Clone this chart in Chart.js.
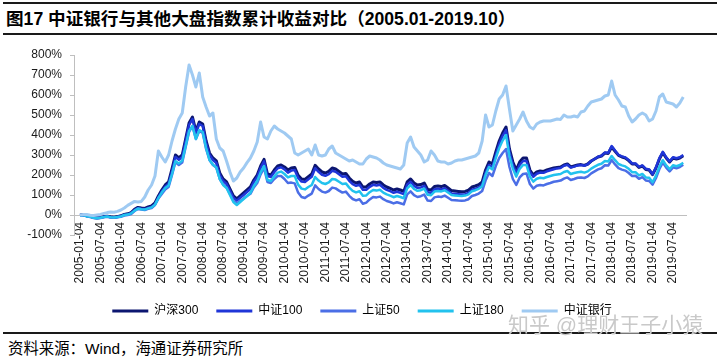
<!DOCTYPE html>
<html>
<head>
<meta charset="utf-8">
<script src="https://cdn.jsdelivr.net/npm/chart.js@4/dist/chart.umd.min.js"></script>
<style>
  html, body { margin: 0; padding: 0; background: #fff; }
  body { width: 720px; height: 359px; position: relative; overflow: hidden;
         font-family: "Liberation Sans", Arial, "Noto Sans CJK SC", sans-serif; }
  #c { position: absolute; left: 0; top: 0; }
  .rule { position: absolute; left: 3px; width: 714px; background: #1a1a1a; }
  #title { position: absolute; left: 6px; top: 8px; font-size: 17.6px; font-weight: bold;
           line-height: 22px; color: #000; white-space: nowrap; }
  #source { position: absolute; left: 8px; top: 340px; font-size: 15.4px; line-height: 18px;
            color: #000; white-space: nowrap; }
  #mark { position: absolute; left: 508px; top: 313px; font-size: 21px; line-height: 24px;
          color: #c9c9c9; white-space: nowrap; }
</style>
</head>
<body>
<div class="rule" style="top:2px;height:2px;"></div>
<div id="title">图17 中证银行与其他大盘指数累计收益对比（2005.01-2019.10）</div>
<div class="rule" style="top:33px;height:1.5px;"></div>
<canvas id="c" width="720" height="327"></canvas>
<div class="rule" style="top:332px;height:1.5px;"></div>
<div id="source">资料来源：Wind，海通证券研究所</div>
<div id="mark">知乎 @理财王子小猿</div>
<script>
// Monthly cumulative returns (%), index 0 = 2005-01, index 177 = 2019-10
const seriesNames = ['沪深300', '中证100', '上证50', '上证180', '中证银行'];

const hs300 = [
  0, 2, -4, -7, -12, -14, -12, -8, -6, -9, -11, -8,
  -4, 3, 6, 12, 28, 38, 35, 33, 40, 45, 60, 95,
  125, 150, 165, 230, 300, 285, 300, 380, 460, 490, 420, 465,
  455, 370, 310, 285, 270, 210, 180, 165, 130, 95, 80, 95,
  110, 125, 140, 175, 200, 245, 278, 205, 200, 225, 245, 250,
  240, 225, 235, 238, 198, 180, 178, 192, 205, 248, 230, 215,
  210, 218, 235, 230, 218, 205, 208, 185, 168, 160, 165, 140,
  140, 155, 165, 162, 165, 150, 140, 133, 125, 130, 125, 118,
  165, 180, 160, 150, 152, 160, 128, 125, 142, 145, 142, 148,
  135, 122, 120, 118, 116, 118, 124, 140, 145, 152, 165, 225,
  265, 255, 315, 370, 410, 440, 330, 265, 225, 265, 285, 285,
  225, 200, 215, 220, 218, 225, 230, 235, 238, 240, 250, 255,
  240, 245, 250, 252, 248, 255, 270, 280, 290, 295, 310, 308,
  340, 318, 298, 290, 285, 272, 255, 255, 238, 245, 228, 225,
  202, 235, 280, 312, 285, 265, 285, 280, 285, 296
];

const csi100 = [
  -1, 1, -5, -8, -13, -15, -13, -9, -8, -11, -13, -10,
  -6, 1, 3, 9, 24, 34, 31, 29, 35, 40, 54, 88,
  118, 142, 157, 220, 290, 276, 290, 370, 450, 480, 410, 455,
  445, 360, 300, 275, 260, 200, 170, 155, 121, 86, 72, 86,
  100, 115, 130, 165, 190, 235, 268, 195, 190, 214, 234, 239,
  228, 212, 222, 225, 185, 167, 165, 179, 191, 234, 216, 201,
  196, 204, 221, 216, 204, 191, 194, 171, 154, 146, 151, 126,
  126, 141, 151, 148, 151, 136, 126, 119, 111, 116, 111, 104,
  151, 166, 146, 136, 138, 146, 114, 111, 128, 131, 128, 134,
  121, 108, 106, 104, 102, 104, 110, 126, 131, 138, 151, 211,
  250, 240, 300, 355, 395, 425, 315, 250, 210, 250, 270, 270,
  215, 191, 206, 212, 211, 218, 224, 229, 233, 235, 246, 251,
  237, 242, 248, 250, 246, 254, 270, 280, 291, 296, 312, 311,
  345, 322, 301, 293, 288, 275, 258, 258, 241, 248, 231, 228,
  204, 238, 284, 316, 288, 268, 289, 284, 289, 300
];

const sse50 = [
  -3, -1, -7, -10, -15, -17, -15, -11, -9, -12, -14, -11,
  -9, -3, 0, 5, 20, 30, 27, 25, 31, 35, 50, 82,
  105, 128, 140, 200, 265, 250, 262, 340, 415, 445, 380, 420,
  410, 330, 275, 250, 237, 180, 152, 138, 105, 72, 58, 70,
  82, 95, 106, 138, 160, 203, 235, 165, 160, 180, 195, 195,
  180, 160, 162, 158, 112, 90, 85, 97, 107, 148, 130, 117,
  112, 120, 137, 133, 122, 112, 117, 96, 80, 73, 79, 56,
  62, 78, 90, 88, 92, 79, 70, 65, 58, 64, 59, 53,
  103, 118, 99, 90, 94, 102, 72, 70, 88, 92, 90, 97,
  86, 75, 74, 72, 71, 73, 79, 95, 100, 107, 120, 172,
  210, 195, 245, 285, 310, 330, 240, 180, 150, 188, 205, 208,
  155, 132, 146, 150, 148, 155, 160, 166, 169, 172, 182, 188,
  175, 180, 186, 188, 185, 193, 208, 218, 228, 234, 249, 247,
  275, 253, 234, 227, 222, 210, 195, 196, 181, 189, 173, 170,
  152, 185, 230, 262, 237, 218, 238, 234, 240, 251
];

const sse180 = [
  -2, 0, -6, -9, -14, -16, -14, -10, -8, -11, -13, -10,
  -7, 0, 2, 8, 22, 32, 29, 27, 33, 38, 52, 85,
  112, 135, 148, 205, 270, 258, 272, 345, 420, 445, 380, 425,
  415, 335, 275, 252, 238, 180, 150, 135, 100, 65, 50, 65,
  80, 95, 110, 145, 170, 213, 245, 175, 170, 193, 212, 217,
  205, 188, 195, 195, 152, 132, 128, 140, 150, 190, 172, 160,
  155, 163, 180, 177, 166, 155, 158, 137, 121, 113, 119, 96,
  98, 114, 125, 122, 126, 112, 103, 97, 89, 95, 90, 84,
  133, 150, 130, 121, 124, 132, 101, 99, 117, 120, 118, 124,
  112, 100, 98, 96, 95, 97, 103, 119, 124, 131, 144, 200,
  240, 228, 285, 335, 372, 400, 295, 232, 192, 231, 250, 250,
  192, 167, 181, 186, 184, 190, 195, 200, 203, 205, 215, 220,
  205, 210, 214, 216, 212, 218, 232, 242, 251, 256, 270, 268,
  295, 274, 255, 248, 243, 231, 214, 214, 198, 205, 188, 186,
  164, 197, 242, 274, 248, 229, 249, 244, 250, 261
];

const bank = [
  0, 3, 2, -1, -3, 0, 3, 8, 12, 15, 14, 18,
  25, 35, 48, 58, 68, 65, 68, 90, 125, 150, 195, 320,
  290, 265, 300, 370, 430, 480, 510, 640, 750, 700, 640, 710,
  590, 540, 495, 510, 380, 335, 320, 270, 215, 170, 185, 215,
  235, 262, 285, 320, 365, 465, 390, 380, 420, 445, 430, 420,
  410, 395, 380, 310, 300, 310, 320, 330, 300, 350, 300, 295,
  300, 330, 345, 310, 300, 290, 280, 270, 275, 265, 255, 255,
  280, 295, 290, 285, 275, 260, 250, 245, 240, 235, 230, 250,
  360, 390, 340, 320, 300, 265, 275, 320, 300, 270, 265, 265,
  255, 260, 270, 275, 275, 280, 285, 290, 295, 310, 370, 500,
  440, 450, 520, 580, 600, 645, 530, 420, 450, 480, 515, 470,
  440, 430, 455, 465, 470, 470, 470, 475, 480, 478, 500, 490,
  490, 495, 490, 515, 520, 545, 565, 570, 575, 580, 595, 600,
  670, 600, 575, 545, 540, 495, 465, 480, 500, 510, 500, 470,
  480, 520, 590, 605, 565, 560, 555, 540, 560, 590
];

const tickLabels = [
  '2005-01-04', '2005-07-04', '2006-01-04', '2006-07-04', '2007-01-04', '2007-07-04',
  '2008-01-04', '2008-07-04', '2009-01-04', '2009-07-04', '2010-01-04', '2010-07-04',
  '2011-01-04', '2011-07-04', '2012-01-04', '2012-07-04', '2013-01-04', '2013-07-04',
  '2014-01-04', '2014-07-04', '2015-01-04', '2015-07-04', '2016-01-04', '2016-07-04',
  '2017-01-04', '2017-07-04', '2018-01-04', '2018-07-04', '2019-01-04', '2019-07-04'
];
const yTicks = [-100, 0, 100, 200, 300, 400, 500, 600, 700, 800];

const colors = ['#0c1670', '#1f35d8', '#4b6ee6', '#22c2ee', '#9fcaf2'];
const widths = [3, 2.5, 2.5, 2.5, 3];
const allSeries = [hs300, csi100, sse50, sse180, bank];

const toXY = arr => arr.map((v, i) => ({ x: i, y: v }));
const FONT = '"Liberation Sans", Arial, "Noto Sans CJK SC", sans-serif';

const datasets = allSeries.map((s, k) => ({
  label: seriesNames[k],
  data: toXY(s),
  borderColor: colors[k],
  backgroundColor: colors[k],
  borderWidth: widths[k],
  pointRadius: 0,
  tension: 0,
  borderJoinStyle: 'round',
  order: 5 - k
}));

// nudge the legend row a few pixels right so it sits where the original's does
const legendShift = {
  id: 'legendShift',
  afterLayout(chart) {
    if (chart.legend) { chart.legend.left += 6; chart.legend.right += 6; }
  }
};

new Chart(document.getElementById('c'), {
  type: 'line',
  data: { datasets },
  plugins: [legendShift],
  options: {
    responsive: false,
    animation: false,
    devicePixelRatio: 1,
    layout: { padding: { top: 55, left: 25, right: 33, bottom: 0 } },
    plugins: {
      tooltip: { enabled: false },
      legend: {
        position: 'bottom',
        labels: {
          boxWidth: 36,
          boxHeight: 3,
          padding: 18,
          color: '#000',
          font: { family: FONT, size: 12 },
          sort: (a, b) => a.datasetIndex - b.datasetIndex,
          generateLabels: chart => Chart.defaults.plugins.legend.labels.generateLabels(chart)
            .map(l => Object.assign(l, { lineWidth: 0, fillStyle: l.strokeStyle }))
        }
      }
    },
    scales: {
      x: {
        type: 'linear',
        min: -1.76,
        max: 178.1,
        grid: { display: false },
        border: { display: false },
        afterFit: s => { s.height = 52; },
        afterBuildTicks: s => { s.ticks = tickLabels.map((t, i) => ({ value: i * 6 })); },
        ticks: {
          autoSkip: false,
          mirror: true,
          minRotation: 90,
          maxRotation: 90,
          padding: 13,
          labelOffset: 14.4,
          color: '#1a1a1a',
          font: { family: FONT, size: 12 },
          callback: v => tickLabels[Math.round(v / 6)]
        }
      },
      y: {
        min: -100,
        max: 800,
        afterFit: s => { s.width = 49; },
        afterBuildTicks: s => { s.ticks = yTicks.map(v => ({ value: v })); },
        border: { display: true, color: '#bfbfbf', width: 1 },
        grid: {
          drawTicks: true,
          tickLength: 4,
          tickColor: '#bfbfbf',
          color: ctx => (ctx.tick && ctx.tick.value === 0) ? '#bfbfbf' : 'rgba(0,0,0,0)',
          lineWidth: 1
        },
        ticks: {
          padding: 8,
          color: '#1a1a1a',
          font: { family: FONT, size: 12 },
          callback: v => v + '%'
        }
      }
    }
  }
});
</script>
</body>
</html>
